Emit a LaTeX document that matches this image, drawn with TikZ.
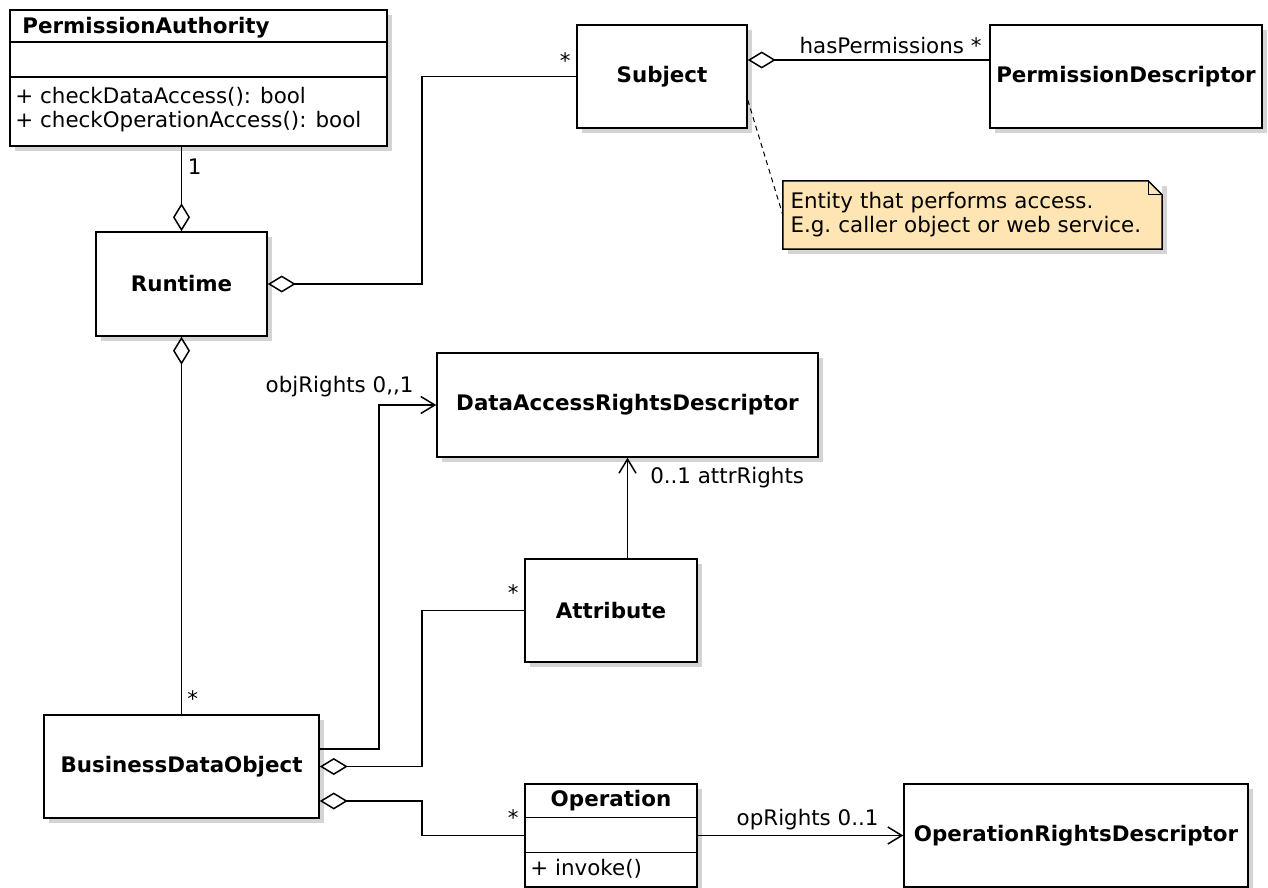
\documentclass[tikz,border=0pt]{standalone}
\usepackage{fontspec}
\setmainfont{DejaVu Sans}
\usetikzlibrary{arrows.meta, calc, positioning, shadows}
\definecolor{notefill}{RGB}{255,229,180}
\definecolor{shadowgray}{RGB}{212,212,212}
\newcommand{\umlsize}{\fontsize{21.4}{24}\selectfont}

\tikzset{
  classbox/.style={draw, line width=1.5pt, fill=white, minimum width=#1, minimum height=103pt,
    inner sep=0pt, font=\umlsize\bfseries,
    drop shadow={shadow xshift=5pt, shadow yshift=-5pt, fill=shadowgray, opacity=1}},
  classbox/.default=172pt,
  txt/.style={font=\umlsize, inner sep=0pt},
  mult/.style={font=\umlsize, inner sep=0pt},
  aggr/.style={line width=1.5pt, {Diamond[open, length=28pt, width=17pt]}-},
  nav/.style={line width=1.5pt, -{Straight Barb[length=14pt, width=17pt]}},
  notebox/.style={fill=notefill, text width=364pt, inner xsep=7.5pt, inner ysep=0pt,
    minimum height=68pt, align=left, font=\umlsize,
    drop shadow={shadow xshift=5pt, shadow yshift=-5pt, fill=shadowgray, opacity=1}}
}

\begin{document}
\begin{tikzpicture}[x=1pt, y=-1pt]
\useasboundingbox (0,0) rectangle (1268,888);

% classes
\node[classbox=377pt, minimum height=136pt] (pa) at (198.5,78) {};
\draw[line width=1.5pt] ($(pa.north west)+(0,33)$) -- ($(pa.north east)+(0,33)$);
\draw[line width=1.5pt] ($(pa.north west)+(0,68)$) -- ($(pa.north east)+(0,68)$);
\node[txt, font=\umlsize\bfseries, anchor=base west] (pa-name) at ($(pa.north west)+(13,24)$) {PermissionAuthority};
\node[txt, anchor=base west] (pa-op1) at ($(pa.north west)+(6,94)$) {+ checkDataAccess(): bool};
\node[txt, anchor=base west] (pa-op2) at ($(pa.north west)+(6,118)$) {+ checkOperationAccess(): bool};

\node[classbox=171pt, minimum height=104pt] (rt) at (181.5,284) {Runtime};
\node[classbox=170pt] (subj) at (662,76.5) {Subject};
\node[classbox=272pt] (pd) at (1126,76.5) {PermissionDescriptor};
\node[classbox=381pt, minimum height=104pt] (dard) at (627.5,405) {DataAccessRightsDescriptor};
\node[classbox] (attr) at (611,610.5) {Attribute};
\node[classbox=275pt] (bdo) at (181.5,766.5) {BusinessDataObject};
\node[classbox=344pt] (ord) at (1076,835.5) {OperationRightsDescriptor};

\node[classbox] (op) at (611,835.5) {};
\draw[line width=1.5pt] ($(op.north west)+(0,34)$) -- ($(op.north east)+(0,34)$);
\draw[line width=1.5pt] ($(op.north west)+(0,69)$) -- ($(op.north east)+(0,69)$);
\node[txt, font=\umlsize\bfseries] (op-name) at ($(op.north)+(0,17)$) {Operation};
\node[txt, anchor=base west] (op-op1) at ($(op.south west)+(6,-12)$) {+ invoke()};

% note
\node[notebox] (note) at (972.5,215) {Entity that performs access.\\E.g.\ caller object or web service.};
\fill[white] ([xshift=-14pt]note.north east) -- (note.north east) -- ([yshift=-14pt]note.north east) -- cycle;
\draw[line width=1.5pt] (note.south west) -- (note.north west) -- ([xshift=-14pt]note.north east)
  -- ([yshift=-14pt]note.north east) -- (note.south east) -- cycle;
\draw[line width=1pt] ([xshift=-14pt]note.north east) -- ([xshift=-14pt,yshift=-14pt]note.north east)
  -- ([yshift=-14pt]note.north east);

% associations
\coordinate (bendA) at (422,0);
\coordinate (bendB) at (379,0);

\draw[aggr] (rt.north) -- (rt.north |- pa.south)
  node[mult, pos=1, anchor=north west, xshift=5.5pt, yshift=-11pt] (m-pa) {1};
\draw[aggr] (rt.east) -| (bendA |- subj.west) -- (subj.west)
  node[mult, pos=1, anchor=south east, xshift=-5pt, yshift=7pt] (m-subj) {*};
\draw[aggr] ([yshift=16.5pt]subj.east) -- ([yshift=16.5pt]pd.west)
  node[mult, pos=1, anchor=south east, xshift=-7pt, yshift=5pt] (m-pd) {hasPermissions *};
\draw[line width=1pt, dash pattern=on 5pt off 4pt] ([yshift=-23.5pt]subj.east) -- (note.west);

\draw[aggr] (rt.south) -- (bdo.north)
  node[mult, pos=1, anchor=south west, xshift=5pt, yshift=7pt] (m-bdo) {*};
\draw[nav] ([yshift=17.5pt]bdo.east) -| (bendB |- dard.west) -- (dard.west)
  node[mult, pos=1, anchor=south east, xshift=-22pt, yshift=7pt] (m-obj) {objRights 0,\kern0pt,1};
\draw[nav] (dard.south |- attr.north) -- (dard.south)
  node[mult, pos=1, anchor=north west, xshift=22pt, yshift=-9pt] (m-attr) {0..1 attrRights};
\draw[aggr] (bdo.east) -| (bendA |- attr.west) -- (attr.west)
  node[mult, pos=1, anchor=south east, xshift=-5pt, yshift=9pt] (m-at) {*};
\draw[aggr] ([yshift=-34.5pt]bdo.east) -| (bendA |- op.west) -- (op.west)
  node[mult, pos=1, anchor=south east, xshift=-5pt, yshift=9.5pt] (m-op) {*};
\draw[nav] (op.east) -- (ord.west)
  node[mult, pos=1, anchor=south east, xshift=-24pt, yshift=4.5pt] (m-ord) {opRights 0..1};
\end{tikzpicture}
\end{document}
